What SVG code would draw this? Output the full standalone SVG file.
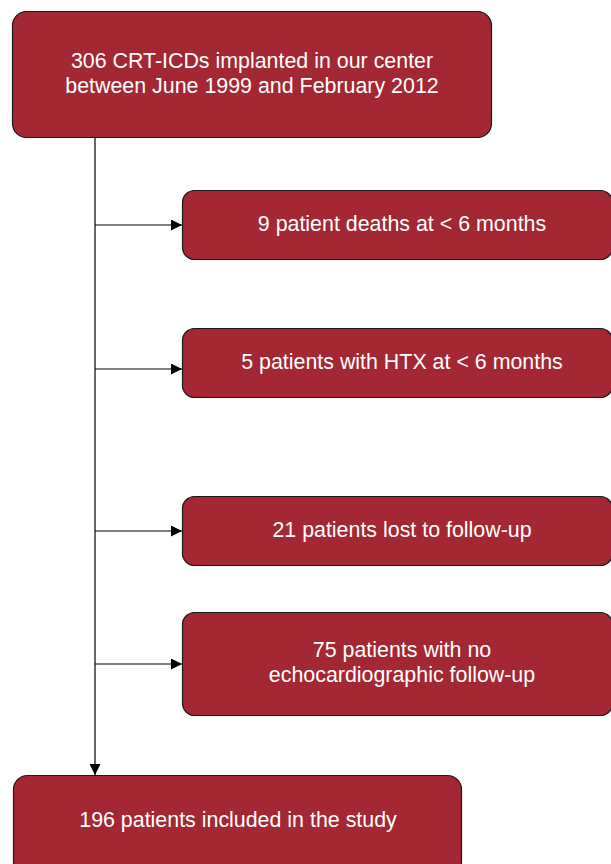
<svg xmlns="http://www.w3.org/2000/svg" width="611" height="864" viewBox="0 0 611 864">
<style>
.box{fill:#A32833;stroke:#1a1a1a;stroke-width:1.2}
.t{font-family:"Liberation Sans",Arial,sans-serif;font-size:21.4px;fill:#ffffff;text-anchor:middle}
.c{stroke:#000;stroke-width:1.2;fill:none}
</style>
<defs>
<marker id="ah" viewBox="0 0 10 10" refX="10" refY="5" markerWidth="11" markerHeight="11" markerUnits="userSpaceOnUse" orient="auto">
<path d="M0,0 L10,5 L0,10 Z" fill="#000"/>
</marker>
</defs>
<rect width="611" height="864" fill="#fff"/>
<g id="connectors">
<line class="c" x1="95" y1="137" x2="95" y2="775" marker-end="url(#ah)"/>
<line class="c" x1="95" y1="225" x2="182" y2="225" marker-end="url(#ah)"/>
<line class="c" x1="95" y1="369" x2="182" y2="369" marker-end="url(#ah)"/>
<line class="c" x1="95" y1="531" x2="182" y2="531" marker-end="url(#ah)"/>
<line class="c" x1="95" y1="664" x2="182" y2="664" marker-end="url(#ah)"/>
</g>
<g id="n1">
<rect class="box" x="12.5" y="11.5" width="479" height="126" rx="14"/>
<text class="t" x="252" y="68">306 CRT-ICDs implanted in our center</text>
<text class="t" x="252" y="93">between June 1999 and February 2012</text>
</g>
<g id="n2">
<rect class="box" x="182.5" y="190.5" width="430" height="69" rx="12"/>
<text class="t" x="402" y="231">9 patient deaths at &lt; 6 months</text>
</g>
<g id="n3">
<rect class="box" x="182.5" y="328.5" width="430" height="69" rx="12"/>
<text class="t" x="402" y="369">5 patients with HTX at &lt; 6 months</text>
</g>
<g id="n4">
<rect class="box" x="182.5" y="496.5" width="430" height="69" rx="12"/>
<text class="t" x="402" y="537">21 patients lost to follow-up</text>
</g>
<g id="n5">
<rect class="box" x="182.5" y="612.5" width="430" height="103" rx="12"/>
<text class="t" x="402" y="657">75 patients with no</text>
<text class="t" x="402" y="682">echocardiographic follow-up</text>
</g>
<g id="n6">
<rect class="box" x="13.5" y="775.5" width="448" height="100" rx="14"/>
<text class="t" x="238" y="827">196 patients included in the study</text>
</g>
</svg>
